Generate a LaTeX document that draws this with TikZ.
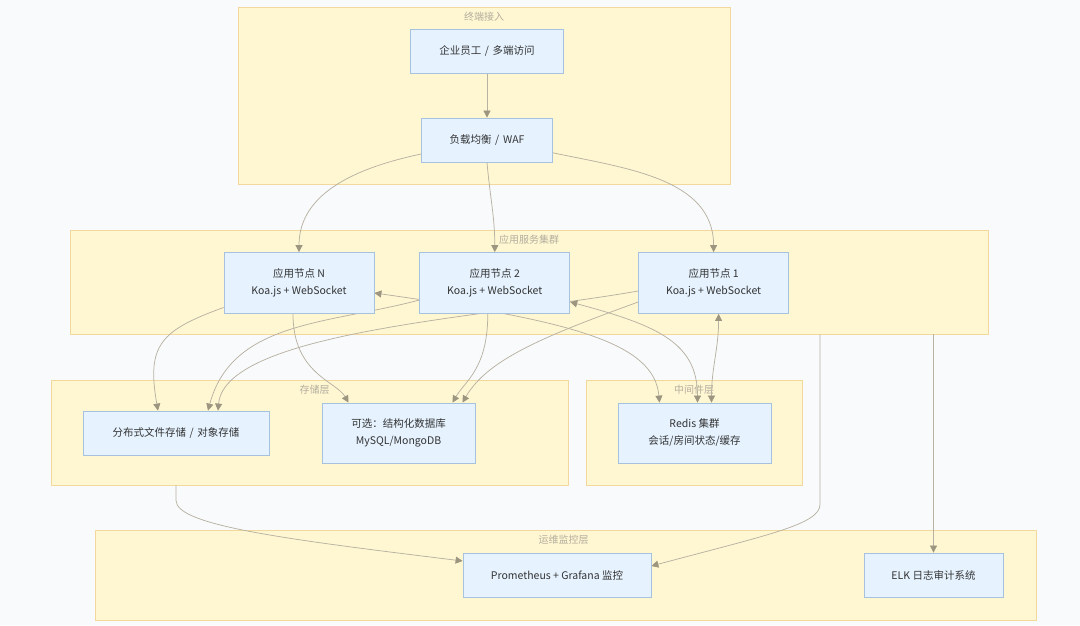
\documentclass[tikz,border=0pt]{standalone}
\usepackage{fontspec}
\setmainfont{Noto Sans CJK SC}
\usetikzlibrary{arrows.meta, positioning, fit, calc}
\definecolor{pagebg}{HTML}{F9FAFC}
\definecolor{layerfill}{HTML}{FFF6D2}
\definecolor{layerline}{HTML}{F2D89C}
\definecolor{boxfill}{HTML}{E6F3FF}
\definecolor{boxline}{HTML}{A6C2DE}
\definecolor{edgeink}{HTML}{B8B2A2}
\definecolor{tipink}{HTML}{9C9580}
\definecolor{titleink}{HTML}{B4AE9E}
\definecolor{textink}{HTML}{333333}
\pgfdeclarelayer{back}
\pgfdeclarelayer{wires}
\pgfsetlayers{back,wires,main}
\newcommand{\slashsep}{\hspace{0.35em}/\hspace{0.35em}}
\tikzset{
  wtip/.tip={Triangle[length=7pt, width=7pt, color=tipink]},
  layerbox/.style={draw=layerline, fill=layerfill, line width=0.8pt, inner sep=0pt},
  layertitle/.style={font=\fontsize{10}{12}\selectfont, text=titleink, below=1.5pt},
  svcbox/.style={draw=boxline, fill=boxfill, line width=0.8pt, align=center,
    font=\fontsize{10.5}{17}\selectfont, text=textink, minimum height=44pt},
  flow/.style={draw=edgeink, line width=0.75pt, -wtip},
  flowboth/.style={draw=edgeink, line width=0.75pt, wtip-wtip}
}
\begin{document}
\begin{tikzpicture}[x=1pt, y=1pt]
\useasboundingbox (0,0) rectangle (1080,625);
% layers
\begin{pgfonlayer}{back}
\fill[pagebg] (0,0) rectangle (1080,625);
\node[layerbox, minimum width=492pt, minimum height=177pt] (access) at (484,529.5) {};
\node[layerbox, minimum width=918pt, minimum height=104pt] (cluster) at (529,343) {};
\node[layerbox, minimum width=517pt, minimum height=105pt] (storage) at (309.5,192.5) {};
\node[layerbox, minimum width=216pt, minimum height=105pt] (middle) at (694,192.5) {};
\node[layerbox, minimum width=941pt, minimum height=90pt] (ops) at (565.5,50) {};
\node[layertitle] at (access.north) {终端接入};
\node[layertitle] at (cluster.north) {应用服务集群};
\node[layertitle] at ([xshift=5pt]storage.north) {存储层};
\node[layertitle] at (middle.north) {中间件层};
\node[layertitle] at ([xshift=-2pt]ops.north) {运维监控层};
\end{pgfonlayer}
% services
\node[svcbox, minimum width=153pt] (user) at (487,574) {企业员工\slashsep 多端访问};
\node[svcbox, minimum width=131pt] (lb) at (487,485) {负载均衡\slashsep WAF};
\node[svcbox, minimum width=150pt, minimum height=61pt] (appn) at (299,342) {应用节点 N\\Koa.js + WebSocket};
\node[svcbox, minimum width=150pt, minimum height=61pt, right=45pt of appn] (app2) {应用节点 2\\Koa.js + WebSocket};
\node[svcbox, minimum width=150pt, minimum height=61pt, right=68pt of app2] (app1) {应用节点 1\\Koa.js + WebSocket};
\node[svcbox, minimum width=186pt] (fs) at (176,192) {分布式文件存储\slashsep 对象存储};
\node[svcbox, minimum width=153pt, minimum height=60pt] (db) at (398.5,192) {可选：结构化数据库\\MySQL/MongoDB};
\node[svcbox, minimum width=153pt, minimum height=60pt] (redis) at (694.5,192) {Redis 集群\\会话/房间状态/缓存};
\node[svcbox, minimum width=188pt] (prom) at (557,50) {Prometheus + Grafana 监控};
\node[svcbox, minimum width=139pt] (elk) at (933.5,50) {ELK 日志审计系统};
% connectors
\begin{pgfonlayer}{wires}
\draw[flow] (user) -- (lb);
\draw[flow] (lb.192) to[out=192,in=90] (appn.north);
\draw[flow] (lb.south) to[out=-85,in=90] (app2.north);
\draw[flow] (lb.-11) to[out=-12,in=90] (app1.north);
\draw[flow] (appn.198) to[out=200,in=100,looseness=1.4] ([xshift=-18pt]fs.north);
\draw[flow] ([yshift=-17pt]app2.west) to[out=195,in=75] ([xshift=32pt]fs.north);
\draw[flow] ([yshift=-8pt]app1.west) to[out=190,in=85,out distance=150pt,in distance=80pt] ([xshift=42pt]fs.north);
\draw[flow] ([xshift=-6pt]appn.south) to[out=-90,in=120,out distance=60pt,in distance=25pt] ([xshift=-50pt]db.north);
\draw[flow] ([xshift=-7pt]app2.south) to[out=-90,in=60,out distance=55pt,in distance=25pt] ([xshift=54pt]db.north);
\draw[flow] ([yshift=-19pt]app1.west) to[out=200,in=60,out distance=100pt,in distance=50pt] ([xshift=64pt]db.north);
\draw[flowboth] ([yshift=-10pt]appn.east) to[out=-8,in=95,out distance=200pt,in distance=60pt] ([xshift=-35pt]redis.north);
\draw[flowboth] ([yshift=-19pt]app2.east) to[out=-15,in=90,out distance=90pt,in distance=60pt] ([xshift=3pt]redis.north);
\draw[flowboth] ([xshift=5pt]app1.south) to[out=-90,in=90] ([xshift=17pt]redis.north);
\draw[flow] ([xshift=291pt]cluster.south) -- ++(0,-170) to[out=-90,in=15,out distance=20pt,in distance=120pt] ([yshift=9pt]prom.east);
\draw[flow] (cluster.south -| elk.north) -- (elk.north);
\draw[flow] (storage.south -| fs.south) -- ++(0,-15) to[out=-90,in=173,out distance=25pt,in distance=180pt] ([yshift=14pt]prom.west);
\end{pgfonlayer}
\end{tikzpicture}
\end{document}
